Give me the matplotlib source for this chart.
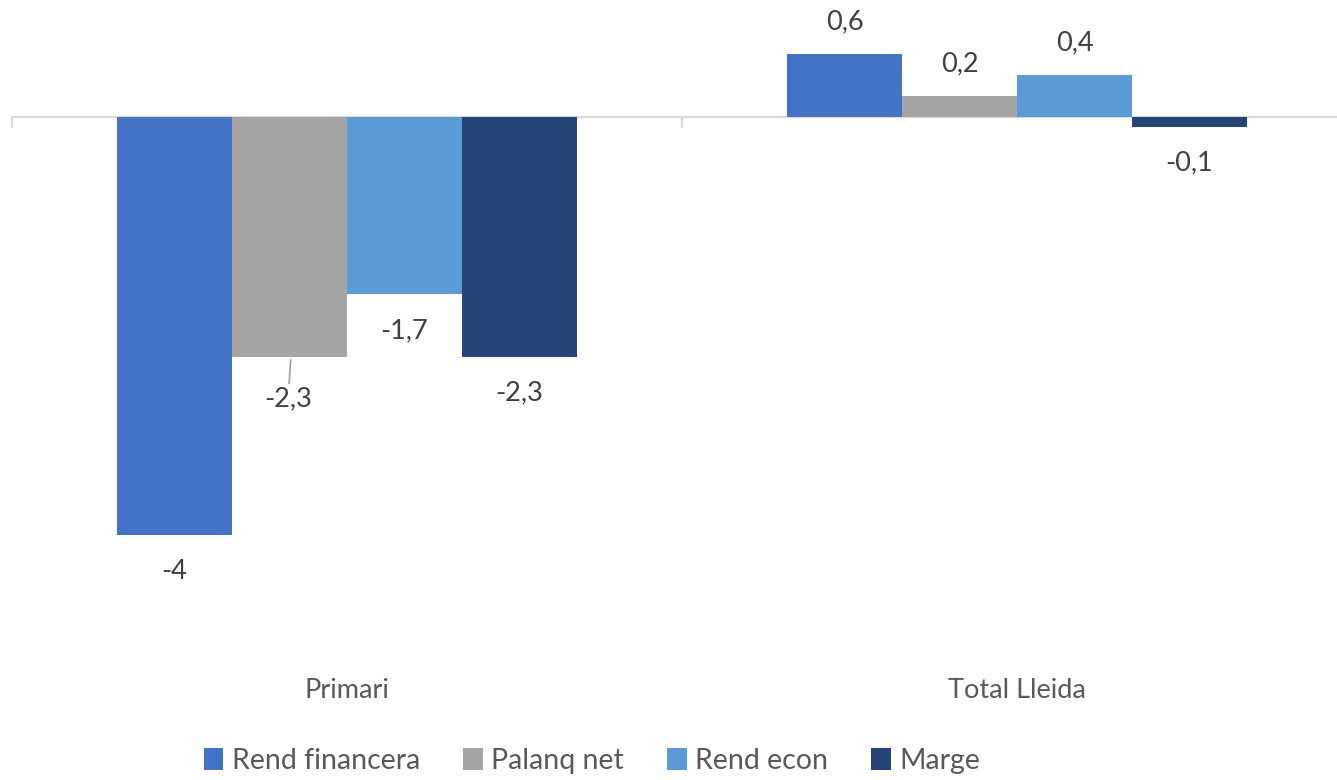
import numpy as np
import matplotlib
matplotlib.use('Agg')
import matplotlib.pyplot as plt

plt.rcParams['font.family'] = ['Lato', 'DejaVu Sans']

categories = ['Primari', 'Total Lleida']
series = ['Rend financera', 'Palanq net', 'Rend econ', 'Marge']
values = [
    [-4.0, 0.6],   # Rend financera
    [-2.3, 0.2],   # Palanq net
    [-1.7, 0.4],   # Rend econ
    [-2.3, -0.1],  # Marge
]
colors = ['#4472C4', '#A5A5A5', '#5B9BD5', '#264478']


def fmt(v):
    s = ('%.1f' % v).rstrip('0').rstrip('.')
    return s.replace('.', ',')


fig = plt.figure(figsize=(13.37, 7.80), dpi=100)
# axes deliberately runs a bit past the right edge like the original
ax = fig.add_axes([12 / 1337, 1 - 639.5 / 780, 1340 / 1337, (639.5 - 12) / 780])

x = np.arange(len(categories))
w = 0.1716
fs = 19.5
handles = []
for i, (name, vals, c) in enumerate(zip(series, values, colors)):
    pos = x + (i - 1.5) * w
    b = ax.bar(pos, vals, width=w, color=c, label=name, zorder=2)
    handles.append(b)
    for px, v in zip(pos, vals):
        off = 14 if v >= 0 else -17
        va = 'bottom' if v >= 0 else 'top'
        if name == 'Palanq net' and v < -2:
            ax.annotate(fmt(v), xy=(px + 0.002, v), xytext=(-2, -21),
                        textcoords='offset points', ha='center', va='top',
                        fontsize=fs, color='#404040',
                        arrowprops=dict(arrowstyle='-', color='#A6A6A6', lw=1.3,
                                        shrinkA=0, shrinkB=2))
        else:
            ax.annotate(fmt(v), xy=(px, v), xytext=(0, off),
                        textcoords='offset points', ha='center', va=va,
                        fontsize=fs, color='#404040')

ax.set_xlim(-0.5, 1.5)
ax.set_ylim(-5, 1)

for s in ['top', 'right', 'left']:
    ax.spines[s].set_visible(False)
ax.spines['bottom'].set_position(('data', 0))
ax.spines['bottom'].set_color('#D9D9D9')
ax.spines['bottom'].set_linewidth(1.6)
ax.spines['bottom'].set_zorder(1)
ax.set_yticks([])
ax.set_xticks([-0.5, 0.5, 1.5])
ax.set_xticklabels([])
ax.tick_params(axis='x', direction='out', length=8, width=1.6, color='#D9D9D9')

for xi, cat in zip(x, categories):
    ax.text(xi, -0.082, cat, transform=ax.get_xaxis_transform(),
            ha='center', va='center', fontsize=fs, color='#595959')

fig.legend(handles=handles, labels=series, loc='center', ncol=4,
           bbox_to_anchor=(592 / 1337, 1 - 761 / 780), frameon=False,
           fontsize=20.5, labelcolor='#595959', handlelength=0.7,
           handleheight=0.8, handletextpad=0.3, columnspacing=1.5)

plt.savefig('out.png', dpi=100)
